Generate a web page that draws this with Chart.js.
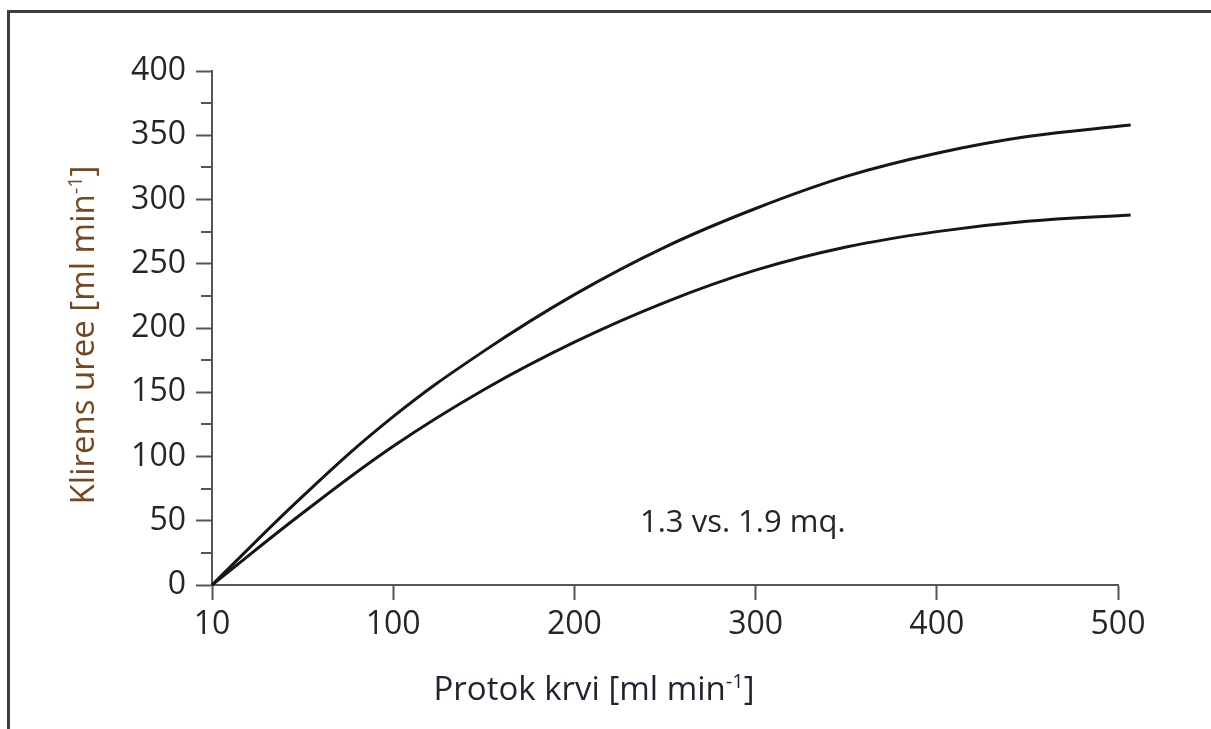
<!DOCTYPE html>
<html><head><meta charset="utf-8">
<script src="https://cdn.jsdelivr.net/npm/chart.js@4.4.1/dist/chart.umd.min.js"></script>
<style>
html,body{margin:0;padding:0;background:#fff;overflow:hidden;}
#wrap{position:relative;width:1211px;height:729px;overflow:hidden;}
#frame{position:absolute;left:7px;top:10px;width:1300px;height:800px;border-left:3px solid #3c3c3c;border-top:3px solid #3c3c3c;}
canvas{position:absolute;left:0;top:0;}
</style></head>
<body><div id="wrap"><div id="frame"></div><canvas id="c" width="1211" height="729"></canvas></div>
<script>
// Data
const flowValues   = [0, 50, 100, 150, 200, 250, 300, 350, 400, 450, 507];
const clearance19  = [0, 69, 131, 182, 226, 263, 293, 318, 336, 349, 358];
const clearance13  = [0, 56, 108, 152, 189, 220, 245, 263, 275, 283, 288];
const xTickValues  = [0, 100, 200, 300, 400, 500];
const xTickLabels  = ['10', '100', '200', '300', '400', '500'];
const yTickValues  = [0, 25, 50, 75, 100, 125, 150, 175, 200, 225, 250, 275, 300, 325, 350, 375, 400];
const yMajorLabels = ['0', '50', '100', '150', '200', '250', '300', '350', '400'];
const xTitle = ['Protok krvi [ml min', '-1', ']'];
const yTitle = ['Klirens uree [ml min', '-1', ']'];
const annotationText = '1.3 vs. 1.9 mq.';

const FONT = '"Open Sans", "Noto Sans", sans-serif';
const TICK_SIZE = 32;
const axisColor = '#555555';

function toPoints(xs, ys) { return xs.map((x, i) => ({ x: x, y: ys[i] })); }

function drawRuns(ctx, runs, size, color) {
  const supSize = Math.round(size * 0.62);
  ctx.fillStyle = color;
  ctx.textBaseline = 'alphabetic';
  ctx.textAlign = 'left';
  ctx.font = size + 'px ' + FONT;
  const w0 = ctx.measureText(runs[0]).width;
  const w2 = ctx.measureText(runs[2]).width;
  ctx.font = supSize + 'px ' + FONT;
  const w1 = ctx.measureText(runs[1]).width;
  const total = w0 + w1 + w2;
  let x = -total / 2;
  ctx.font = size + 'px ' + FONT;
  ctx.fillText(runs[0], x, 0); x += w0;
  ctx.font = supSize + 'px ' + FONT;
  ctx.fillText(runs[1], x, -size * 0.36); x += w1;
  ctx.font = size + 'px ' + FONT;
  ctx.fillText(runs[2], x, 0);
}

const decorPlugin = {
  id: 'decor',
  afterDraw(chart) {
    const ctx = chart.ctx;
    const ys = chart.scales.y;
    ctx.save();
    ctx.strokeStyle = axisColor;
    ctx.lineWidth = 2;
    yTickValues.forEach(v => {
      if (v % 50 !== 0) {
        const py = Math.round(ys.getPixelForValue(v));
        ctx.beginPath();
        ctx.moveTo(ys.right - 11, py);
        ctx.lineTo(ys.right, py);
        ctx.stroke();
      }
    });
    ctx.restore();

    ctx.save();
    ctx.translate(594, 700);
    drawRuns(ctx, xTitle, 33, '#1f2430');
    ctx.restore();

    ctx.save();
    ctx.translate(94, 335);
    ctx.rotate(-Math.PI / 2);
    drawRuns(ctx, yTitle, 33, '#764820');
    ctx.restore();

    ctx.save();
    ctx.font = '31px ' + FONT;
    ctx.fillStyle = '#262626';
    ctx.textAlign = 'left';
    ctx.textBaseline = 'alphabetic';
    ctx.fillText(annotationText, 640, 532);
    ctx.restore();
  }
};

new Chart(document.getElementById('c'), {
  type: 'line',
  data: {
    datasets: [
      { label: '1.9 mq', data: toPoints(flowValues, clearance19), borderColor: '#161616', borderWidth: 3,
        pointRadius: 0, tension: 0.4, fill: false, clip: false },
      { label: '1.3 mq', data: toPoints(flowValues, clearance13), borderColor: '#161616', borderWidth: 3,
        pointRadius: 0, tension: 0.4, fill: false, clip: false }
    ]
  },
  options: {
    responsive: false,
    animation: false,
    devicePixelRatio: 1,
    layout: { padding: { left: 0, top: 71, right: 93, bottom: 0 } },
    plugins: { legend: { display: false }, tooltip: { enabled: false }, title: { display: false } },
    scales: {
      x: {
        type: 'linear', min: 0, max: 500,
        afterBuildTicks: s => { s.ticks = xTickValues.map(v => ({ value: v })); },
        afterFit: s => { s.height = 144; },
        ticks: {
          autoSkip: false, maxRotation: 0, padding: 6,
          color: '#262626', font: { family: FONT, size: TICK_SIZE },
          callback: (v) => xTickLabels[xTickValues.indexOf(v)]
        },
        grid: { drawOnChartArea: false, drawTicks: true, tickLength: 15, tickWidth: 2, tickColor: axisColor, color: axisColor },
        border: { display: true, color: axisColor, width: 2 }
      },
      y: {
        type: 'linear', min: 0, max: 400,
        afterBuildTicks: s => { s.ticks = yTickValues.map(v => ({ value: v })); },
        afterFit: s => { s.width = 212; },
        ticks: {
          autoSkip: false, padding: 10,
          color: '#262626', font: { family: FONT, size: TICK_SIZE },
          callback: (v) => (v % 50 === 0 ? yMajorLabels[v / 50] : '')
        },
        grid: {
          drawOnChartArea: false, drawTicks: true, tickLength: 16, tickWidth: 2,
          tickColor: c => (c.tick && c.tick.value % 50 === 0 ? axisColor : 'rgba(0,0,0,0)'),
          color: axisColor
        },
        border: { display: true, color: axisColor, width: 2 }
      }
    }
  },
  plugins: [decorPlugin]
});
</script>
</body></html>
